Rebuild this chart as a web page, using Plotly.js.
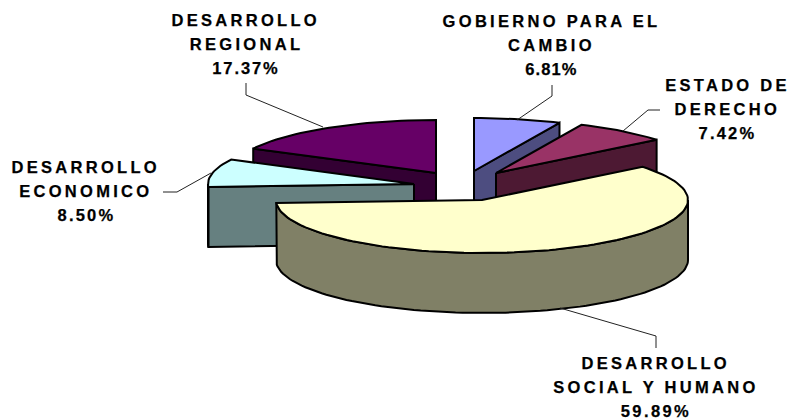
<!DOCTYPE html>
<html>
<head>
<meta charset="utf-8">
<script src="https://cdn.plot.ly/plotly-3.0.1.min.js"></script>
<style>
html,body{margin:0;padding:0;background:#fff}
.annotation text{letter-spacing:3.3px;stroke:#000;stroke-width:0.25px}
</style>
</head>
<body>
<div id="chart" style="width:791px;height:419px"></div>
<script>
const categories = ["GOBIERNO PARA EL CAMBIO","ESTADO DE DERECHO","DESARROLLO SOCIAL Y HUMANO","DESARROLLO ECONOMICO","DESARROLLO REGIONAL"];
const shares = [6.81,7.42,59.89,8.50,17.37];
const labelLines = [["GOBIERNO PARA EL","CAMBIO"],["ESTADO DE","DERECHO"],["DESARROLLO","SOCIAL Y HUMANO"],["DESARROLLO","ECONOMICO"],["DESARROLLO","REGIONAL"]];
const topColors = ["#9999FF","#993366","#FFFFCC","#CCFFFF","#660066"];
const sideColors = ["#4D4D80","#4D1933","#808066","#668080","#330033"];

// layout constants (pixels, axes map 1:1 to the page)
const centerX = [474,496,482,414,436];
const centerY = [171,173,200,184,173];
const labelX = [551,727,656,86,246];
const labelY = [21,85,363,167,19.5];
const lineGap = 24;
const percentSpacing = [1.1,2.2,2.4,2.2,1.9];
const leaders = ["M552,85 L552,96 L517,120","M660,110 L648,110 L623,131","M656,348 L656,336 L560,308","M163,192 L177,192 L211,173","M246,83 L246,95 L323,127"];
const cutFaceEdge = [1,1,null,0,0]; // which radial edge of the slice shows a cut face
const drawOrder = [4,0,1,3,2];
const RX = 206, RY = 53, DEPTH = 60;

const total = shares.reduce((a,b)=>a+b,0);
const pt = (i,deg,dy=0)=>{const r=deg*Math.PI/180;return [centerX[i]+RX*Math.sin(r),centerY[i]-RY*Math.cos(r)+dy];};
const arc = (i,a,b,dy=0)=>{const n=Math.max(2,Math.ceil(Math.abs(b-a)/2));const o=[];for(let k=0;k<=n;k++)o.push(pt(i,a+(b-a)*k/n,dy));return o;};
const poly = (pts,color)=>{const c=pts.concat([pts[0]]);return {x:c.map(p=>p[0]),y:c.map(p=>p[1]),mode:'lines',fill:'toself',fillcolor:color,line:{color:'#000',width:2,shape:'linear'},hoverinfo:'skip',showlegend:false};};

let cum=0; const starts=shares.map(s=>{const v=cum;cum+=s/total*360;return v;});
const traces=[];
drawOrder.forEach(i=>{
  const a=starts[i], b=a+shares[i]/total*360, apex=[centerX[i],centerY[i]];
  if(cutFaceEdge[i]!==null){
    const e=pt(i,cutFaceEdge[i]?b:a);
    traces.push(poly([apex,e,[e[0],e[1]+DEPTH],[apex[0],apex[1]+DEPTH]],sideColors[i]));
  }
  const wa=Math.max(a,90), wb=Math.min(b,270);
  if(wb>wa) traces.push(poly(arc(i,wa,wb).concat(arc(i,wb,wa,DEPTH)),sideColors[i]));
  traces.push(poly([apex].concat(arc(i,a,b)),topColors[i]));
});

const annotations=[];
const percentText = shares.map(s=>s.toFixed(2)+"%");
labelLines.forEach((lines,i)=>{
  lines.concat([percentText[i]]).forEach((t,k)=>{
    annotations.push({x:labelX[i],y:labelY[i]+k*lineGap,xref:'x',yref:'y',text:t,showarrow:false,xanchor:'center',yanchor:'middle',
      font:{family:'"Liberation Sans",Arial,sans-serif',size:16.5,color:'#000',weight:700}});
  });
});
const shapes=leaders.map(p=>({type:'path',path:p,xref:'x',yref:'y',line:{color:'#222',width:1}}));

Plotly.newPlot('chart',traces,{
  width:791,height:419,margin:{l:0,r:0,t:0,b:0},paper_bgcolor:'#fff',plot_bgcolor:'#fff',showlegend:false,
  xaxis:{range:[0,791],visible:false,fixedrange:true},
  yaxis:{range:[419,0],visible:false,fixedrange:true},
  annotations,shapes
},{displayModeBar:false,staticPlot:true}).then(()=>{
  document.querySelectorAll('.annotation text').forEach(el=>{
    const i=percentText.indexOf(el.textContent);
    if(i>=0) el.style.letterSpacing=percentSpacing[i]+'px';
  });
});
</script>
</body>
</html>
